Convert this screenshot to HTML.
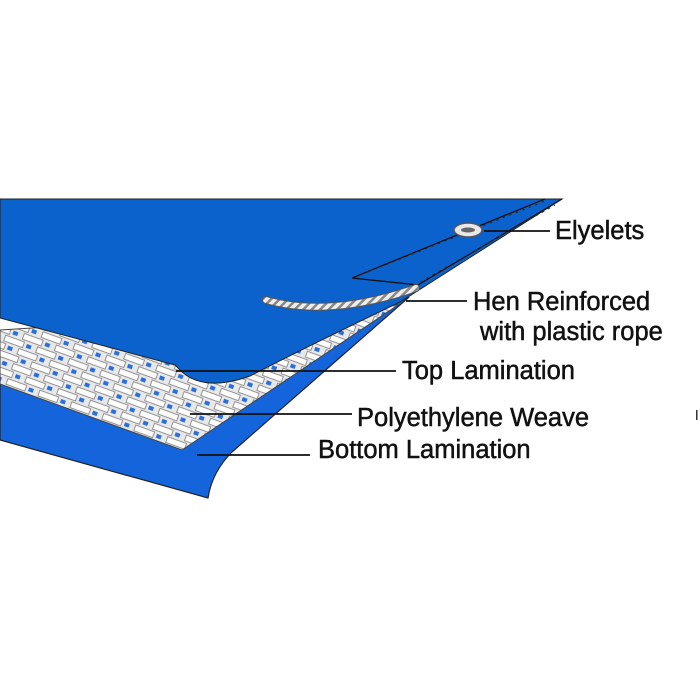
<!DOCTYPE html>
<html><head><style>
html,body{margin:0;padding:0;background:#fff;width:700px;height:700px;overflow:hidden}
svg{display:block}
text{font-family:"Liberation Sans",Arial,sans-serif;font-size:25.5px;fill:#111;stroke:#111;stroke-width:0.5}
</style></head><body>
<svg width="700" height="700" viewBox="0 0 700 700">
<defs>
<pattern id="wv" width="34" height="16" patternUnits="userSpaceOnUse" patternTransform="rotate(20)">
<rect width="34" height="16" fill="#e8e8e8"/>
<rect x="1" y="1" width="20" height="6" fill="#fff" stroke="#888" stroke-width="0.9"/>
<rect x="18" y="9" width="20" height="6" fill="#fff" stroke="#888" stroke-width="0.9"/>
<rect x="-16" y="9" width="20" height="6" fill="#fff" stroke="#888" stroke-width="0.9"/>
<rect x="24" y="2" width="5" height="4" fill="#2a6fe0"/>
<rect x="7" y="10" width="5" height="4" fill="#2a6fe0"/>
</pattern>
<pattern id="rope" width="6" height="6" patternUnits="userSpaceOnUse" patternTransform="rotate(45)">
<rect width="6" height="6" fill="#eee"/><rect width="2.5" height="6" fill="#888"/>
</pattern>
</defs>
<path d="M0,374 L408,298 L232,452 Q212,472 208,498 L0,440 Z" fill="#1464dc" stroke="#222" stroke-width="1.2"/>
<path d="M0,330 L398,305 L182,450 L0,384 Z" fill="url(#wv)" stroke="#444" stroke-width="1"/>
<path d="M0,199 L562,199 L400,302 Q300,350 250,376 Q205,392 182,372 L175,365 L0,318 Z" fill="#0b62cc" stroke="#222" stroke-width="1"/>
<path d="M352,278 L545,199 M352,278 L418,285 L562,199" fill="none" stroke="#111" stroke-width="1.3"/>
<path d="M360,275 L545,201" fill="none" stroke="#222" stroke-width="1" stroke-dasharray="2 5"/>
<path d="M420,282 L555,205" fill="none" stroke="#333" stroke-width="1" stroke-dasharray="3 4"/>
<path d="M266,300 Q330,318 416,288" fill="none" stroke="#555" stroke-width="8" stroke-linecap="round"/>
<path d="M266,300 Q330,318 416,288" fill="none" stroke="url(#rope)" stroke-width="6" stroke-linecap="round"/>
<ellipse cx="468" cy="230" rx="14" ry="7" fill="#e8e8e8" stroke="#555" stroke-width="1.5"/>
<ellipse cx="468" cy="230" rx="7" ry="2.5" fill="#666"/>
<g stroke="#111" stroke-width="1.8">
<line x1="484" y1="231" x2="550" y2="231"/>
<line x1="406" y1="301" x2="467" y2="301"/>
<line x1="176" y1="371" x2="396" y2="371"/>
<line x1="190" y1="414" x2="352" y2="414"/>
<line x1="197" y1="455" x2="310" y2="455"/>
</g>
<text x="555" y="239">Elyelets</text>
<text x="473" y="310">Hen Reinforced</text>
<text x="480" y="340">with plastic rope</text>
<text x="402" y="379">Top Lamination</text>
<text x="357" y="426">Polyethylene Weave</text>
<text x="318" y="458">Bottom Lamination</text>
<rect x="696" y="410" width="1.5" height="10" fill="#333"/>
</svg>
</body></html>
